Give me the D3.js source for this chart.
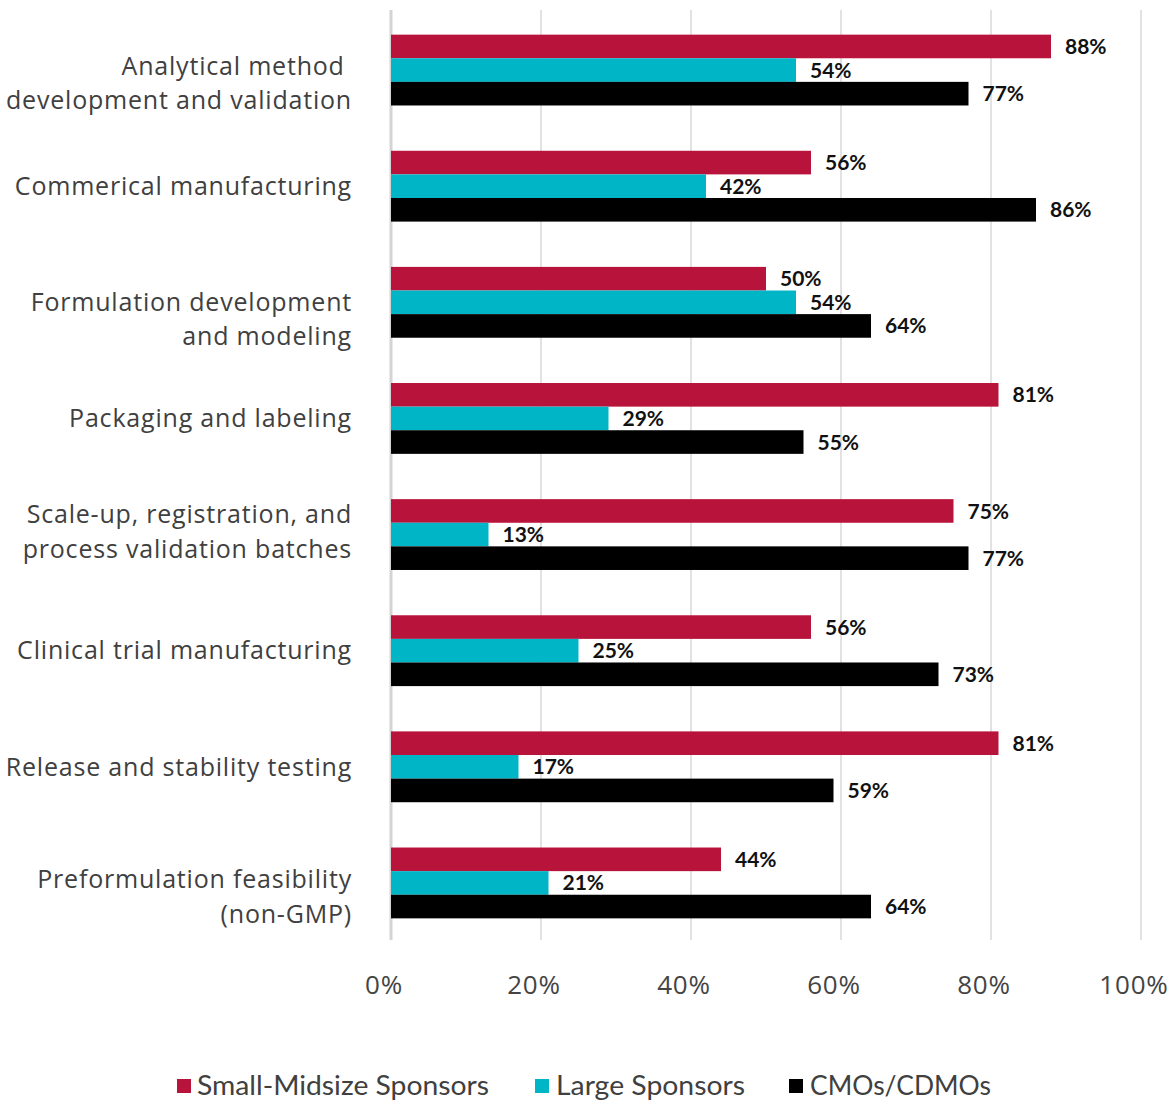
<!DOCTYPE html>
<html>
<head>
<meta charset="utf-8">
<script src="https://cdn.jsdelivr.net/npm/d3@7"></script>
<style>
  html, body { margin: 0; padding: 0; background: #fff; }
  svg { display: block; }
  .cat { white-space: pre; }
</style>
</head>
<body>
<svg id="chart" width="1171" height="1103"></svg>
<script>
// Categories, top to bottom; "\n" marks a line break in the axis label
const categories = [
  "Analytical method \ndevelopment and validation",
  "Commerical manufacturing",
  "Formulation development\nand modeling",
  "Packaging and labeling",
  "Scale-up, registration, and\nprocess validation batches",
  "Clinical trial manufacturing",
  "Release and stability testing",
  "Preformulation feasibility\n(non-GMP)"
];
const seriesNames = ["Small-Midsize Sponsors", "Large Sponsors", "CMOs/CDMOs"];
const smallMidsize = [88, 56, 50, 81, 75, 56, 81, 44];
const largeSponsors = [54, 42, 54, 29, 13, 25, 17, 21];
const cmos = [77, 86, 64, 55, 77, 73, 59, 64];
const xTicks = [0, 20, 40, 60, 80, 100];

const seriesValues = [smallMidsize, largeSponsors, cmos];
const colors = ["#b8133a", "#00b5c6", "#000000"];
// vertical nudges for wrapped category labels
const labelShift = [13, 0, 17, 0, -3, 0, 0, 14];

const svg = d3.select("#chart");
const font = "Lato, 'Open Sans', sans-serif";
const labelFont = "'Open Sans', Lato, sans-serif";

const x = d3.scaleLinear().domain([0, 100]).range([391, 1141]);
const y = d3.scaleBand().domain(d3.range(categories.length))
  .range([12, 941]).paddingInner(0.39).paddingOuter(0.195);
const ySub = d3.scaleBand().domain(d3.range(seriesNames.length))
  .range([0, y.bandwidth()]);

// vertical gridlines
svg.append("g").selectAll("line").data(xTicks).join("line")
  .attr("x1", d => x(d)).attr("x2", d => x(d))
  .attr("y1", 10).attr("y2", 940)
  .attr("stroke", d => d === 0 ? "#d4d4d4" : "#e2e2e2")
  .attr("stroke-width", d => d === 0 ? 3 : 2);

// x tick labels
svg.append("g").selectAll("text").data(xTicks).join("text")
  .attr("x", d => x(d) - 7).attr("y", 994)
  .attr("text-anchor", "middle")
  .attr("font-family", labelFont).attr("font-size", 26)
  .attr("letter-spacing", 0.8).attr("fill", "#444")
  .text(d => d + "%");

// bars
const groups = svg.append("g").selectAll("g").data(categories).join("g")
  .attr("transform", (d, i) => `translate(0,${y(i)})`);

groups.each(function(cat, i) {
  const g = d3.select(this);
  const rows = seriesValues.map((vals, s) => ({ s, v: vals[i] }));
  g.selectAll("rect").data(rows).join("rect")
    .attr("x", x(0))
    .attr("y", d => ySub(d.s))
    .attr("width", d => x(d.v) - x(0))
    .attr("height", ySub.bandwidth())
    .attr("fill", d => colors[d.s]);
  g.selectAll("text.val").data(rows).join("text")
    .attr("class", "val")
    .attr("x", d => x(d.v) + 14)
    .attr("y", d => ySub(d.s) + ySub.bandwidth() / 2)
    .attr("dy", "0.36em")
    .attr("font-family", font).attr("font-weight", 700)
    .attr("font-size", 21).attr("fill", "#111")
    .text(d => d.v + "%");
});

// category labels
svg.append("g").selectAll("text").data(categories).join("text")
  .attr("class", "cat")
  .attr("font-family", labelFont).attr("font-size", 25)
  .attr("letter-spacing", 0.8).attr("fill", "#404040")
  .attr("text-anchor", "end")
  .each(function(cat, i) {
    const lines = cat.split("\n");
    const cy = y(i) + y.bandwidth() / 2 + labelShift[i];
    const lh = 34.5;
    d3.select(this).selectAll("tspan").data(lines).join("tspan")
      .attr("x", 352)
      .attr("y", (d, k) => cy + (k - (lines.length - 1) / 2) * lh)
      .attr("dy", "0.35em")
      .text(d => d);
  });

// legend
const legendItems = [
  { sq: 177, tx: 197, w: 292 },
  { sq: 535, tx: 556, w: 189 },
  { sq: 789, tx: 810, w: 181 }
];
const legend = svg.append("g").selectAll("g").data(seriesNames).join("g");
legend.append("rect")
  .attr("x", (d, i) => legendItems[i].sq).attr("y", 1079)
  .attr("width", 14).attr("height", 14)
  .attr("fill", (d, i) => colors[i]);
legend.append("text")
  .attr("x", (d, i) => legendItems[i].tx).attr("y", 1095)
  .attr("font-family", font).attr("font-size", 26).attr("fill", "#404040")
  .attr("textLength", (d, i) => legendItems[i].w)
  .attr("lengthAdjust", "spacingAndGlyphs")
  .text(d => d);
</script>
</body>
</html>
